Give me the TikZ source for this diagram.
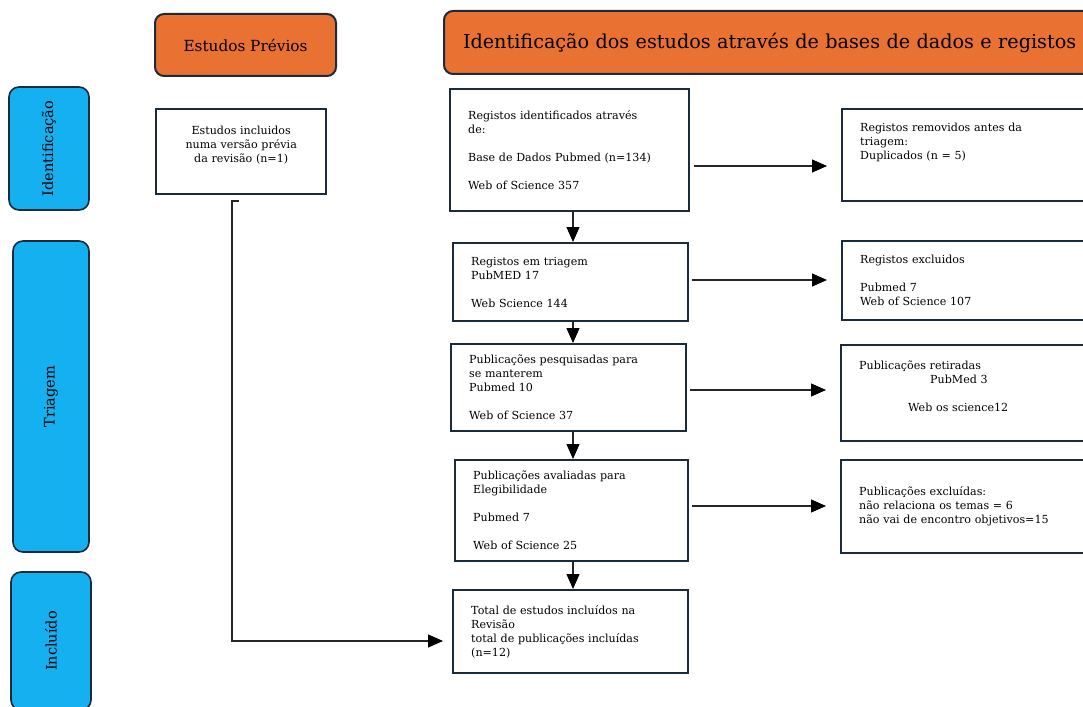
\documentclass[tikz,border=0pt]{standalone}
\usepackage{fontspec}
\setmainfont{DejaVu Serif}
\usetikzlibrary{arrows.meta,calc}
\definecolor{hdrorange}{HTML}{E97132}
\definecolor{phaseblue}{HTML}{14B0F0}
\definecolor{edge}{HTML}{1C2B3A}
\tikzset{
  hdr/.style={draw=edge, line width=2pt, fill=hdrorange, rounded corners=9pt,
    anchor=north west, inner sep=0pt},
  phase/.style={draw=edge, line width=1.6pt, fill=phaseblue, rounded corners=10pt,
    rotate=90, inner sep=0pt, font=\fontsize{14.5}{17}\selectfont},
  flowbox/.style={draw=edge, line width=2.4pt, fill=white, anchor=north west,
    inner xsep=18pt, inner ysep=0pt, align=left,
    font=\fontsize{11.1}{14}\selectfont},
  arr/.style={-{Triangle[length=15pt,width=13pt]}, line width=1.1pt, black!85,
    arrows={-{Triangle[length=15pt,width=13pt,fill=black,color=black]}}}
}
\begin{document}
\begin{tikzpicture}[x=1pt,y=-1pt]
\useasboundingbox (0,0) rectangle (1083,706);
\clip (0,0) rectangle (1083,706);

% column headers
\node[hdr, minimum width=660, minimum height=63, text width=622, inner xsep=19pt,
  align=left, font=\fontsize{19.2}{22}\selectfont] (hdrmain) at (443,10)
  {Identificação dos estudos através de bases de dados e registos};
\node[hdr, minimum width=181, minimum height=62, font=\fontsize{15.3}{18}\selectfont]
  (hdrprev) at (154,13) {Estudos Prévios};

% phase labels
\node[phase, minimum width=123, minimum height=80] (phid) at (49,148.5) {Identificação};
\node[phase, minimum width=311, minimum height=76] (phtr) at (51,396.5) {Triagem};
\node[phase, minimum width=138, minimum height=80] (phin) at (51,641) {Incluído};

% previous studies
\node[flowbox, align=center, text width=134, minimum height=85] (prev) at (155,108)
  {Estudos incluidos\\numa versão prévia\\da revisão (n=1)\\\mbox{}};

% main column
\node[flowbox, text width=203, minimum height=122] (ident) at (449,88)
  {Registos identificados através\\de:\\[14pt]Base de Dados Pubmed (n=134)\\[14pt]Web of Science 357};
\node[flowbox, text width=199, minimum height=78] (triag) at (452,242)
  {Registos em triagem\\PubMED 17\\[14pt]Web Science 144};
\node[flowbox, text width=199, minimum height=87] (pesq) at (450,343)
  {Publicações pesquisadas para\\se manterem\\Pubmed 10\\[14pt]Web of Science 37};
\node[flowbox, text width=197, minimum height=101] (aval) at (454,459)
  {Publicações avaliadas para\\Elegibilidade\\[14pt]Pubmed 7\\[14pt]Web of Science 25};
\node[flowbox, text width=199, minimum height=83] (total) at (452,589)
  {Total de estudos incluídos na\\Revisão\\total de publicações incluídas\\(n=12)};

% exclusion column
\node[flowbox, text width=223, minimum height=92] (remov) at (841,108)
  {Registos removidos antes da\\triagem:\\Duplicados (n = 5)\\[14pt]\mbox{}};
\node[flowbox, text width=223, minimum height=79] (exclu) at (841,240)
  {Registos excluidos\\[14pt]Pubmed 7\\Web of Science 107};
\node[flowbox, text width=223, minimum height=96] (retir) at (840,344)
  {Publicações retiradas\\\hspace*{71pt}PubMed 3\\[14pt]\hspace*{49pt}Web os science12\\\mbox{}};
\node[flowbox, text width=223, minimum height=93] (exclp) at (840,459)
  {Publicações excluídas:\\não relaciona os temas = 6\\não vai de encontro objetivos=15};

% vertical flow
\draw[arr] (ident.south -| 573,0) -- (triag.north -| 573,0);
\draw[arr] (triag.south -| 573,0) -- (pesq.north -| 573,0);
\draw[arr] (pesq.south -| 573,0) -- (aval.north -| 573,0);
\draw[arr] (aval.south -| 573,0) -- (total.north -| 573,0);

% exclusions
\draw[arr, shorten <=4pt, shorten >=14pt] (ident.east |- 0,166) -- (remov.west |- 0,166);
\draw[arr, shorten <=3pt, shorten >=14pt] (triag.east |- 0,280) -- (exclu.west |- 0,280);
\draw[arr, shorten <=3pt, shorten >=14pt] (pesq.east |- 0,390) -- (retir.west |- 0,390);
\draw[arr, shorten <=3pt, shorten >=14pt] (aval.east |- 0,506) -- (exclp.west |- 0,506);

% previous studies into the final count
\coordinate (tick) at (239,201);
\draw[arr, shorten >=9pt] (tick) -- ++(-7,0) |- (total.west |- 0,641);
\end{tikzpicture}
\end{document}
